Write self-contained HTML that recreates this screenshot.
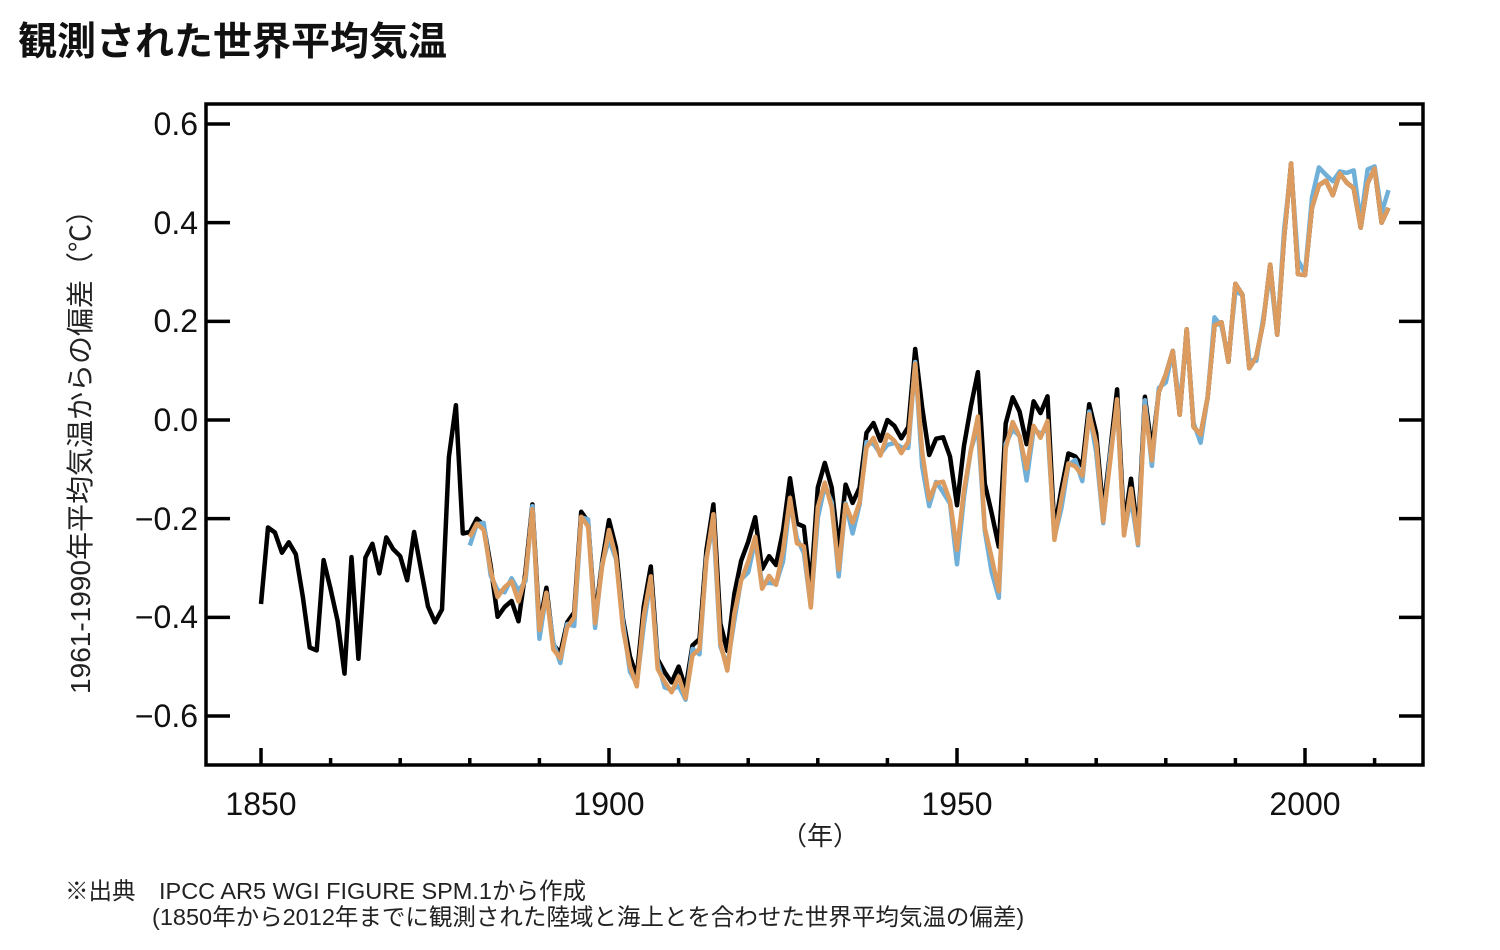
<!DOCTYPE html>
<html><head><meta charset="utf-8"><style>
html,body{margin:0;padding:0;background:#fff;width:1500px;height:950px;overflow:hidden}
body{font-family:"Liberation Sans","Noto Sans CJK JP",sans-serif}
</style></head><body>
<svg id="s" width="1500" height="950" xmlns="http://www.w3.org/2000/svg" style="position:absolute;left:0;top:0">
<text x="18" y="55" font-size="39" font-weight="bold" font-family="Liberation Sans,Noto Sans CJK JP,sans-serif" fill="#111">観測された世界平均気温</text>
<text transform="translate(90,445) rotate(-90)" text-anchor="middle" font-size="28" font-family="Liberation Sans,Noto Sans CJK JP,sans-serif" fill="#222">1961-1990年平均気温からの偏差（℃）</text>
<g font-size="32" font-family="Liberation Sans,sans-serif" fill="#111" text-anchor="end">
<text x="198" y="135">0.6</text><text x="198" y="234">0.4</text><text x="198" y="332">0.2</text>
<text x="198" y="431">0.0</text><text x="198" y="530">−0.2</text><text x="198" y="628">−0.4</text><text x="198" y="727">−0.6</text>
</g>
<g font-size="32" font-family="Liberation Sans,sans-serif" fill="#111" text-anchor="middle">
<text x="261" y="815">1850</text><text x="609" y="815">1900</text><text x="957" y="815">1950</text><text x="1305" y="815">2000</text>
</g>
<text x="820" y="845" text-anchor="middle" font-size="26" font-family="Liberation Sans,Noto Sans CJK JP,sans-serif" fill="#222">（年）</text>
<text x="65" y="899" font-size="23.5" font-family="Liberation Sans,Noto Sans CJK JP,sans-serif" fill="#222">※出典　IPCC AR5 WGI FIGURE SPM.1から作成</text>
<text x="152" y="925" font-size="23.5" font-family="Liberation Sans,Noto Sans CJK JP,sans-serif" fill="#222">(1850年から2012年までに観測された陸域と海上とを合わせた世界平均気温の偏差)</text>
<g id="plot"></g>
<rect x="206" y="104" width="1217" height="661" fill="none" stroke="#000" stroke-width="3.5"/>
<g id="ticks" stroke="#000" stroke-width="3.5"></g>
</svg>
<script>
var b=[-0.373,-0.218,-0.228,-0.269,-0.248,-0.272,-0.358,-0.461,-0.467,-0.284,-0.343,-0.407,-0.514,-0.278,-0.484,-0.279,-0.251,-0.311,-0.238,-0.262,-0.276,-0.325,-0.227,-0.304,-0.378,-0.41,-0.384,-0.075,0.03,-0.230,-0.227,-0.200,-0.213,-0.296,-0.399,-0.379,-0.367,-0.408,-0.307,-0.171,-0.416,-0.340,-0.455,-0.473,-0.410,-0.390,-0.186,-0.206,-0.402,-0.289,-0.203,-0.259,-0.402,-0.479,-0.520,-0.377,-0.297,-0.485,-0.511,-0.532,-0.500,-0.544,-0.457,-0.444,-0.264,-0.171,-0.413,-0.468,-0.353,-0.285,-0.247,-0.197,-0.302,-0.276,-0.294,-0.225,-0.118,-0.210,-0.216,-0.340,-0.137,-0.087,-0.137,-0.263,-0.131,-0.168,-0.137,-0.026,-0.006,-0.042,0.0,-0.012,-0.037,-0.014,0.144,0.025,-0.071,-0.038,-0.035,-0.074,-0.173,-0.052,0.028,0.097,-0.129,-0.190,-0.257,-0.007,0.046,0.017,-0.049,0.038,0.014,0.048,-0.223,-0.140,-0.068,-0.074,-0.093,0.032,-0.027,-0.186,-0.065,0.062,-0.214,-0.119,-0.231,0.047,-0.062,0.057,0.092,0.140,0.011,0.184,-0.014,-0.030,0.045,0.192,0.198,0.118,0.276,0.254,0.105,0.128,0.198,0.315,0.173,0.370,0.520,0.296,0.294,0.431,0.476,0.485,0.456,0.500,0.481,0.470,0.390,0.480,0.510,0.400,0.430];
function X(y){return 261+(y-1850)*6.96}function Y(v){return 420-v*493.3}
function off(y){if(y<1900)return (y>=1884&&y<=1887)?0.04:-0.01;if(y<1916)return -0.02;if(y<1936)return -0.04;if(y<1945)return -0.03;if(y<1957)return -0.09;if(y<1964)return -0.05;if(y<1979)return -0.02;return 0;}
function path(f,start){var d="";for(var y=start;y<=2012;y++){var v=f(y);d+=(y==start?"M":"L")+X(y).toFixed(1)+","+Y(v).toFixed(1);}return d;}
var ns="http://www.w3.org/2000/svg",p=document.getElementById("plot");
function add(d,c){var e=document.createElementNS(ns,"path");e.setAttribute("d",d);e.setAttribute("fill","none");e.setAttribute("stroke",c);e.setAttribute("stroke-width","4.5");e.setAttribute("stroke-linejoin","round");p.appendChild(e);}
add(path(function(y){return b[y-1850]},1850),"#000");
add(path(function(y){var o=off(y);var n=((y*7)%5-2)*0.008;return b[y-1850]+o*1.15+n+(y>1998?0.02:0)},1880),"#70b0d8");
add(path(function(y){return b[y-1850]+off(y)},1880),"#dc9c60");
var t=document.getElementById("ticks"),h="";
for(var yr=1850;yr<=2010;yr+=10){var x=X(yr),L=(yr%50==0)?17:7;h+='<line x1="'+x+'" y1="765" x2="'+x+'" y2="'+(765-L)+'"/>';}
for(var v=-0.6;v<=0.61;v+=0.2){var y=Y(v);h+='<line x1="206" y1="'+y+'" x2="230" y2="'+y+'"/><line x1="1399" y1="'+y+'" x2="1423" y2="'+y+'"/>';}
t.innerHTML=h;
</script>
</body></html>
